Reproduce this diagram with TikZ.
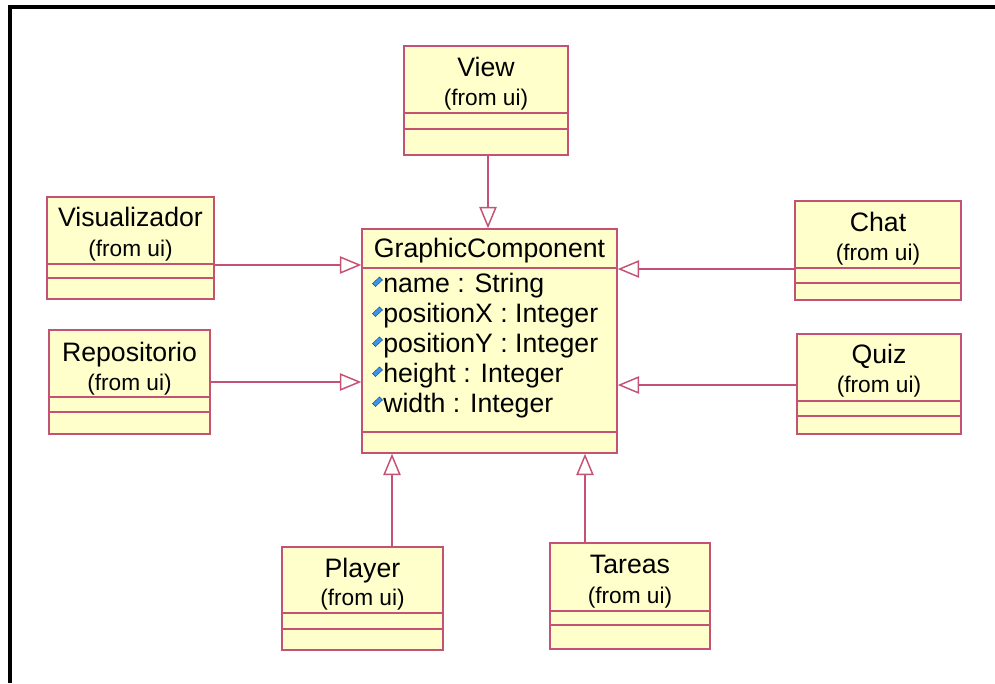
\documentclass[tikz,border=0pt]{standalone}
\usepackage{fontspec}
\setmainfont{Liberation Sans}
\usetikzlibrary{arrows.meta,fit}

\definecolor{umlfill}{RGB}{255,255,204}
\definecolor{umlline}{RGB}{196,82,116}
\definecolor{iconblue}{RGB}{60,150,230}
\definecolor{iconedge}{RGB}{20,70,150}

\tikzset{
  clsbox/.style={draw=umlline, fill=umlfill, line width=1.1pt, inner sep=0pt, rectangle},
  sepline/.style={draw=umlline, line width=1.1pt},
  clsname/.style={anchor=base, inner sep=0pt, font=\fontsize{20}{24}\selectfont},
  clsfrom/.style={anchor=base, inner sep=0pt, font=\fontsize{17}{20}\selectfont},
  attr/.style={anchor=base west, inner sep=0pt, font=\fontsize{20}{24}\selectfont},
  gen/.style={draw=umlline, line width=1.1pt,
    -{Triangle[open, fill=white, length=16pt, width=13pt]}},
  frame/.style={draw=black, line width=3pt},
}

% a class box: name, left, top, right, bottom, first separator, second separator
\newcommand{\umlclass}[7]{%
  \node[clsbox, fit={(#2,#3) (#4,#5)}] (#1) {};
  \coordinate (#1-sa) at (#2,#6);
  \coordinate (#1-sb) at (#2,#7);
  \draw[sepline] (#1-sa) -- (#1-sa -| #1.east);
  \draw[sepline] (#1-sb) -- (#1-sb -| #1.east);
}
% title and "(from ui)" lines of a class box: name, centre x, title baseline, from baseline, title
\newcommand{\umltitle}[5]{%
  \node[clsname] (#1-name) at (#2,#3) {#5};
  \node[clsfrom] (#1-from) at (#2,#4) {(from ui)};
}
% attribute icon with its text: node name, baseline, text
\newcommand{\umlattr}[3]{%
  \filldraw[fill=iconblue, draw=iconedge, line width=0.3pt]
    (379.5,{#2-15}) -- (382.5,{#2-12}) -- (375.5,{#2-5.5}) -- (372.5,{#2-8.5}) -- cycle;
  \node[attr] (#1) at (383,#2) {#3};
}

\begin{document}
\begin{tikzpicture}[x=0.75pt, y=-0.75pt]
  \useasboundingbox (0,0) rectangle (995,683);

  % outer frame: top and left edges
  \coordinate (frameTL) at (9.5,6.5);
  \coordinate (frameTR) at (995,6.5);
  \coordinate (frameBL) at (9.5,683);
  \draw[frame] (frameTR) -- (frameTL) -- (frameBL);

  % central class
  \umlclass{gc}{362}{229}{617}{453}{268}{432}
  \node[clsname] (gc-name) at (489.5,257) {GraphicComponent};
  \umlattr{gc-a1}{292}{name : String}
  \umlattr{gc-a2}{322}{positionX : Integer}
  \umlattr{gc-a3}{352}{positionY : Integer}
  \umlattr{gc-a4}{382}{height : Integer}
  \umlattr{gc-a5}{412}{width : Integer}

  % surrounding classes
  \umlclass{view}{404}{46}{568}{155}{113}{129}
  \umltitle{view}{486}{76}{105}{View}

  \umlclass{viz}{47}{197}{214}{299}{264}{278}
  \umltitle{viz}{130.5}{226}{256}{Visualizador}

  \umlclass{repo}{49}{330}{210}{434}{397}{412}
  \umltitle{repo}{129.5}{361}{390}{Repositorio}

  \umlclass{chat}{795}{201}{961}{300}{268}{283}
  \umltitle{chat}{878}{231}{260}{Chat}

  \umlclass{quiz}{797}{334}{961}{434}{401}{416}
  \umltitle{quiz}{879}{363}{392}{Quiz}

  \umlclass{player}{282}{547}{443}{650}{613}{629}
  \umltitle{player}{362.5}{577}{605}{Player}

  \umlclass{tareas}{550}{543}{710}{649}{611}{625}
  \umltitle{tareas}{630}{573}{603}{Tareas}

  % generalisation connectors
  \coordinate (viewout) at (488,155);
  \coordinate (vizout) at (214,265);
  \coordinate (repoout) at (210,382);
  \coordinate (chatout) at (795,269);
  \coordinate (quizout) at (797,385);
  \coordinate (playerout) at (392,547);
  \coordinate (tareasout) at (585,543);

  \draw[gen] (viewout) -- (viewout |- gc.north);
  \draw[gen] (vizout) -- (vizout -| gc.west);
  \draw[gen] (repoout) -- (repoout -| gc.west);
  \draw[gen] (chatout) -- (chatout -| gc.east);
  \draw[gen] (quizout) -- (quizout -| gc.east);
  \draw[gen] (playerout) -- (playerout |- gc.south);
  \draw[gen] (tareasout) -- (tareasout |- gc.south);
\end{tikzpicture}
\end{document}
